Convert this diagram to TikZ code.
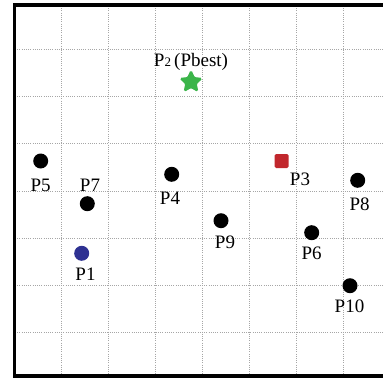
\documentclass[tikz,border=0pt]{standalone}
\usepackage{fontspec}
\setmainfont{Liberation Serif}
\usetikzlibrary{shapes.geometric}
\definecolor{pgreen}{HTML}{3BB54A}
\definecolor{pblue}{HTML}{2E3192}
\definecolor{pred}{HTML}{C1272D}
\tikzset{
  gridline/.style={draw=gray!70, line width=0.8pt, dash pattern=on 1pt off 1.2pt},
  frameline/.style={line width=3.4pt, line cap=rect},
  dot/.style={circle, fill=black, minimum size=15pt, inner sep=0pt},
  bluedot/.style={dot, fill=pblue},
  redsq/.style={rectangle, fill=pred, minimum size=14pt, inner sep=0pt, rounded corners=1.5pt},
  beststar/.style={star, star points=5, star point ratio=2.1, fill=pgreen, draw=pgreen, line width=1.5pt, rounded corners=1.2pt, minimum size=22pt, inner sep=0pt},
  lbl/.style={anchor=base, inner sep=0pt, font=\fontsize{19}{22}\selectfont}
}
\begin{document}
\begin{tikzpicture}[x=1pt,y=-1pt]
\useasboundingbox (0,0) rectangle (383,378);
\begin{scope}
\clip (0,0) rectangle (383,378);
\fill[white] (0,0) rectangle (383,378);
% grid
\foreach \gx in {61.5,108.5,155.5,202.5,249.5,296.5,343.5}
  \draw[gridline] (\gx,6) -- (\gx,375);
\foreach \gy in {49,96.3,143.6,190.9,238.2,285.5,332.8}
  \draw[gridline] (15,\gy) -- (390,\gy);
% frame
\draw[frameline] (400,5) -- (14.5,5) -- (14.5,376) -- (400,376);
% points
\node[beststar] (p2) at (191,82) {};
\node[dot] (p5) at (40.7,161) {};
\node[dot] (p7) at (87.3,203.7) {};
\node[dot] (p4) at (171.7,174.3) {};
\node[redsq] (p3) at (281.7,161) {};
\node[dot] (p8) at (357.7,180.3) {};
\node[dot] (p9) at (221,220.7) {};
\node[dot] (p6) at (311.7,232.7) {};
\node[bluedot] (p1) at (81.7,253.3) {};
\node[dot] (p10) at (350,285.7) {};
% labels
\node[lbl] (l2) at (191,66.7) {P{\fontsize{13}{15}\selectfont 2}\,(Pbest)};
\node[lbl] (l5) at (40.7,191.5) {P5};
\node[lbl] (l7) at (90,191.5) {P7};
\node[lbl] (l4) at (170,204) {P4};
\node[lbl] (l3) at (300,185.7) {P3};
\node[lbl] (l8) at (359.7,210) {P8};
\node[lbl] (l9) at (225,248.3) {P9};
\node[lbl] (l6) at (311.7,259) {P6};
\node[lbl] (l1) at (85.5,280) {P1};
\node[lbl] (l10) at (349.5,312.3) {P10};
\end{scope}
\end{tikzpicture}
\end{document}
